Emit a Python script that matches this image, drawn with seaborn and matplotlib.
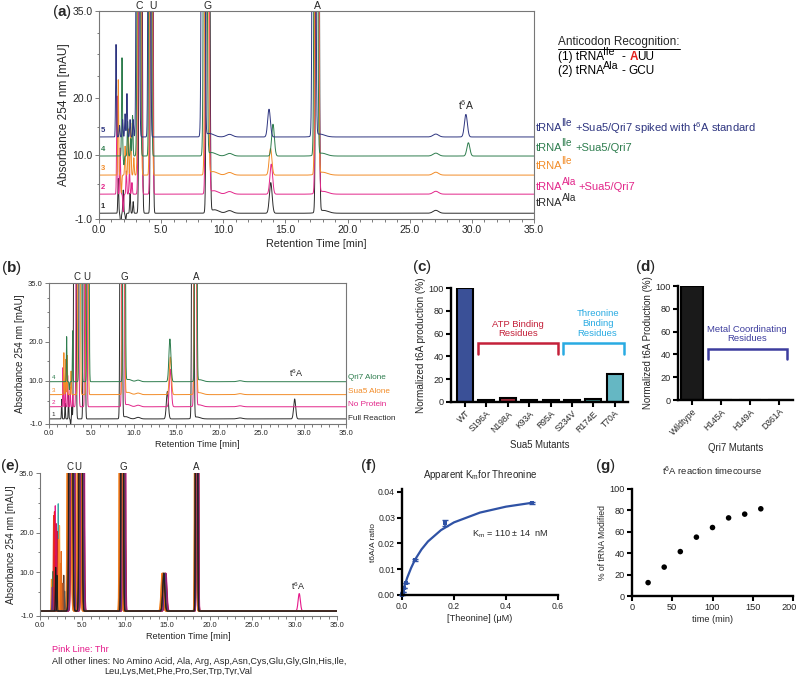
import numpy as np
import pandas as pd
import matplotlib
matplotlib.use("Agg")
import matplotlib.pyplot as plt
import matplotlib.transforms as mtrans
from matplotlib.ticker import MultipleLocator, FixedLocator
import seaborn as sns

sns.set_theme(style="ticks")
plt.rcParams["font.family"] = ["Liberation Sans", "DejaVu Sans"]
plt.rcParams["mathtext.fontset"] = "custom"
plt.rcParams["mathtext.rm"] = "Liberation Sans"
plt.rcParams["mathtext.it"] = "Liberation Sans:italic"
plt.rcParams["mathtext.bf"] = "Liberation Sans:bold"

# ---------------- data ----------------
# (a) HPLC traces: tRNA-Ile / tRNA-Ala with Sua5/Qri7 (bottom -> top)
a_labels = ["tRNA-Ala", "tRNA-Ala +Sua5/Qri7", "tRNA-Ile", "tRNA-Ile +Sua5/Qri7",
            "tRNA-Ile +Sua5/Qri7 +t6A std"]
a_trna = ["Ala", "Ala", "Ile", "Ile", "Ile"]
a_extra = ["", "+Sua5/Qri7", "", "+Sua5/Qri7", r"+Sua5/Qri7 spiked with t$^{\mathrm{6}}$A standard"]
a_colors = ["#2b2b2b", "#e2268a", "#f28c28", "#2e7d4e", "#2e3580"]
a_base = [0.0, 3.3, 6.6, 9.9, 13.2]
a_C = [3.35, 3.30, 3.25, 3.20, 3.12]
a_U = [4.25, 4.22, 4.18, 4.12, 4.05]
a_G = [8.78, 8.72, 8.66, 8.55, 8.38]
a_A = [17.58, 17.55, 17.52, 17.45, 17.30]
a_m14 = [13.82, 13.86, 13.80, 14.00, 13.68]
a_m14_h = [5.3, 5.2, 4.6, 5.5, 4.8]
a_t6a = [29.6, 29.6, 29.6, 29.72, 29.52]
a_t6a_h = [0.0, 0.0, 0.0, 2.3, 3.9]
a_spike_t = [[1.55, 1.75, 1.95, 2.15, 2.5, 2.75],
             [1.45, 1.7, 1.95, 2.2, 2.45, 2.65],
             [1.55, 1.8, 2.1, 2.35, 2.55, 2.8],
             [1.85, 2.0, 2.3, 2.55, 2.7],
             [1.37, 1.65, 1.9, 2.1, 2.25, 2.5, 2.75]]
a_spike_h = [[6, -2.5, 4, -1.2, 3.5, 2],
             [17, 8, -3, 4, 4.5, 2],
             [16.5, -3, 5, 8, 9, 3],
             [17, -1.5, 6, 3, 7],
             [16, 2, 3, 4, 7.5, 3, 3]]

# (b) controls
b_labels = ["Full Reaction", "No Protein", "Sua5 Alone", "Qri7 Alone"]
b_colors = ["#2b2b2b", "#e2268a", "#f28c28", "#2e7d4e"]
b_base = [0.3, 3.4, 6.5, 9.8]
b_C = [3.05, 3.35, 3.55, 3.70]
b_U = [4.15, 4.35, 4.50, 4.60]
b_G = [8.50, 8.72, 8.78, 8.85]
b_A = [16.95, 17.22, 17.26, 17.30]
b_m14 = [13.95, 14.30, 14.30, 14.25]
b_m14_h = [7.0, 9.6, 9.6, 10.9]
b_t6a_h = [5.1, 0.0, 0.0, 0.0]
b_spike_t = [[1.5, 1.9, 2.3, 2.55, 2.7],
             [1.65, 1.9, 2.2, 2.5, 2.8],
             [1.75, 1.97, 2.15, 2.6],
             [2.08, 2.4, 2.79]]
b_spike_h = [[5, 4, 6, -1.5, 3],
             [10, 6, 8, 5, 3],
             [10.7, 9, 10, 6],
             [11.5, -2, 13]]

# (e) amino acid screen
e_names = ["Thr", "Ala", "Arg", "Asp", "Asn", "Cys", "Glu", "Gly", "Gln", "His", "Ile",
           "Leu", "Lys", "Met", "Phe", "Pro", "Ser", "Trp", "Tyr", "No Amino Acid", "Val"]
e_colors = ["#e5198a", "#f7941d", "#e03a1e", "#8c2d19", "#f26522", "#3aa6a6", "#c1272d",
            "#5b3a29", "#f9a541", "#7a1f5c", "#2e6b3a", "#ed1c24", "#f58220", "#555555",
            "#d4145a", "#a0522d", "#ff7f27", "#6d2e8c", "#e86a1a", "#1a1a1a", "#222222"]
e_shift = [0.25, -0.2, 0.1, -0.05, 0.2, 0.0, 0.15, -0.15, 0.05, 0.22, -0.1,
           0.12, -0.22, 0.08, 0.18, -0.08, 0.02, 0.16, -0.12, -0.02, 0.0]
e_spike_t = [1.8, 1.35, 1.6, 2.6, 1.95, 2.15, 2.05, 2.8, 2.3, 1.75, 1.55,
             1.7, 2.4, 2.9, 1.9, 2.7, 2.2, 1.45, 2.5, 1.85, 2.0]
e_spike_h = [26.5, 8, 24, 6, 21, 27, 20, 9, 21.5, 14, 10,
             25, 12, 5, 22, 7, 18, 6, 15, 11, 9]
e_t6a_h = [4.4] + [0.0] * 20

# (c) Sua5 mutants
c_mutants = ["WT", "S196A", "N198A", "K93A", "R95A", "S234V", "R174E", "T70A"]
c_values = [100, 1.5, 3.5, 2.0, 2.0, 2.0, 3.0, 24.5]
c_colors = ["#2b48a6", "#222222", "#b3162c", "#222222", "#222222", "#222222", "#2f8f8c", "#55c3d3"]

# (d) Qri7 mutants
d_mutants = ["Wildtype", "H145A", "H149A", "D361A"]
d_values = [100, 0, 0, 0]

# (f) Km for threonine
f_conc = [0.0, 0.003, 0.008, 0.015, 0.05, 0.165, 0.5]
f_ratio = [0.0, 0.0012, 0.0028, 0.0048, 0.0135, 0.0281, 0.0358]
f_err = [0.0, 0.0, 0.0, 0.0, 0.0003, 0.0012, 0.0003]
f_fit_x = [0, 0.005, 0.01, 0.02, 0.035, 0.05, 0.075, 0.1, 0.15, 0.2, 0.3, 0.4, 0.5]
f_fit_y = [0, 0.0019, 0.0036, 0.0067, 0.0105, 0.0137, 0.0177, 0.0208, 0.0252, 0.0282,
           0.0320, 0.0343, 0.0358]

# (g) time course
g_time = [20, 40, 60, 80, 100, 120, 140, 160]
g_pct = [12.5, 27, 41.5, 55, 64, 73, 76.5, 81.5]

# ---------------- helpers ----------------
W, H = 799, 675
fig = plt.figure(figsize=(W / 100, H / 100), dpi=100)
t = np.linspace(0, 35, 3501)


def px_axes(left, top, right, bottom):
    return fig.add_axes([left / W, 1 - bottom / H, (right - left) / W, (bottom - top) / H])


def rich_text(x, y, parts, fs, kern=1.0):
    # x, y in picture pixels (from top-left); parts = (text, kind, colour)
    r = fig.canvas.get_renderer()
    cx = x
    px = fs * 100 / 72
    for s, kind, col in parts:
        if kind == "gap":
            cx += s
            continue
        size = fs * 0.9 if kind == "sup" else fs
        dy = 0.45 * px if kind == "sup" else 0
        tx = fig.text(cx, H - y + dy, s, transform=mtrans.IdentityTransform(), fontsize=size,
                      color=col, va="center", fontweight="bold" if kind == "bold" else "normal")
        cx = tx.get_window_extent(r).x1 - kern
    return cx


def trace(base, peaks):
    y = np.full_like(t, base)
    for c, h, w in peaks:
        y = y + h * np.exp(-0.5 * ((t - c) / w) ** 2)
    return y


def chrom_plot(ax, names, colors, curves, lw=0.7):
    df = pd.DataFrame({"time": np.tile(t, len(names)),
                       "abs": np.concatenate(curves),
                       "sample": np.repeat(names, len(t))})
    sns.lineplot(data=df, x="time", y="abs", hue="sample", hue_order=names,
                 palette=colors, estimator=None, sort=False, legend=False, lw=lw, ax=ax)


def style_chrom(ax, fs, box=True):
    ax.set_xlim(0, 35)
    ax.set_ylim(-1, 35)
    ax.set_xticks(np.arange(0, 36, 5))
    ax.set_xticklabels([f"{v:.1f}" for v in np.arange(0, 36, 5)])
    ax.xaxis.set_minor_locator(MultipleLocator(1))
    ax.set_yticks([-1, 10, 20, 35])
    ax.set_yticklabels(["-1.0", "10.0", "20.0", "35.0"])
    ax.yaxis.set_minor_locator(FixedLocator([5, 15, 23.75, 27.5, 31.25]))
    ax.tick_params(which="both", direction="out", color="#666666", width=0.6,
                   labelsize=fs, pad=1.5)
    ax.tick_params(which="major", length=3)
    ax.tick_params(which="minor", length=1.8)
    for s in ax.spines.values():
        s.set_color("#777777")
        s.set_linewidth(0.8)
    if not box:
        ax.spines["top"].set_visible(False)
        ax.spines["right"].set_visible(False)


def nuc_letters(ax, pos, fs, dy):
    tr = mtrans.blended_transform_factory(ax.transData, ax.transAxes)
    for letter, x in zip("CUGA", pos):
        ax.text(x, 1 + dy, letter, transform=tr, ha="center", va="bottom", fontsize=fs)


def style_prism(ax, fs):
    sns.despine(ax=ax)
    for s in ["left", "bottom"]:
        ax.spines[s].set_linewidth(1.7)
        ax.spines[s].set_color("black")
    ax.tick_params(width=1.5, length=3.5, labelsize=fs, pad=1.5, color="black")


def bracket(ax, x0, x1, y0, y1, color):
    ax.plot([x0, x0, x1, x1], [y0, y1, y1, y0], color=color, lw=1.8, clip_on=False,
            solid_joinstyle="miter")


# ---------------- (a) ----------------
ax = px_axes(99, 11, 534, 219)
curves = []
for i in range(5):
    pk = [(a_C[i], 300, 0.07), (a_U[i], 300, 0.06), (a_G[i], 300, 0.08), (a_G[i] + 0.5, 0.6, 0.35),
          (a_A[i], 300, 0.08), (a_A[i] + 0.45, 0.5, 0.4), (10.5, 0.45, 0.25),
          (a_m14[i], a_m14_h[i], 0.11), (27.1, 0.5, 0.22), (a_t6a[i], a_t6a_h[i], 0.12)]
    pk += [(st, sh, 0.035) for st, sh in zip(a_spike_t[i], a_spike_h[i])]
    curves.append(trace(a_base[i], pk))
chrom_plot(ax, a_labels, a_colors, curves)
style_chrom(ax, 7.5)
ax.set_xlabel("Retention Time [min]", fontsize=7.8, labelpad=3)
ax.set_ylabel("Absorbance 254 nm [mAU]", fontsize=8.6, labelpad=2)
nuc_letters(ax, [3.2, 4.3, 8.7, 17.6], 7.5, 0.0)
ax.text(29.5, 18.7, r"t$^{\mathrm{6}}$A", fontsize=7.5, ha="center", va="center")
for i, col in enumerate(a_colors):
    ax.text(0.15, a_base[i] + 0.5, str(i + 1), color=col, fontsize=5.5, fontweight="bold",
            va="bottom")
for trna, extra, col, ypx in zip(a_trna, a_extra, a_colors, [203, 187, 166, 148, 128]):
    parts = [("tRNA", "n", col), (trna, "sup", col)]
    if extra:
        parts += [(4, "gap", col), (extra, "n", col)]
    rich_text(536, ypx, parts, 8)

# anticodon box
r = fig.canvas.get_renderer()
t1 = fig.text(558 / W, 1 - 42 / H, "Anticodon Recognition:", fontsize=8.5, va="center")
bb = t1.get_window_extent(r)
fig.add_artist(plt.Line2D([558 / W, bb.x1 / W], [1 - 49 / H, 1 - 49 / H], color="black", lw=0.7))
rich_text(558, 57, [("(1) tRNA", "n", "black"), ("Ile", "sup", "black"), (8, "gap", "k"),
                    ("-", "n", "black"), (5, "gap", "k"), ("A", "bold", "#e3201b"),
                    ("UU", "n", "black")], 8.5)
rich_text(558, 71, [("(2) tRNA", "n", "black"), ("Ala", "sup", "black"), (4, "gap", "k"),
                    ("-", "n", "black"), (4, "gap", "k"), ("GCU", "n", "black")], 8.5)

# ---------------- (b) ----------------
ax = px_axes(49, 283, 346, 424)
curves = []
for i in range(4):
    pk = [(b_C[i], 300, 0.08), (b_U[i], 300, 0.07), (b_G[i], 300, 0.08), (b_G[i] + 0.5, 0.6, 0.35),
          (b_A[i], 300, 0.08), (b_A[i] + 0.45, 0.5, 0.4), (10.5, 0.4, 0.25),
          (b_m14[i], b_m14_h[i], 0.12), (22.5, 0.25, 0.3), (28.95, b_t6a_h[i], 0.12)]
    pk += [(st, sh, 0.035) for st, sh in zip(b_spike_t[i], b_spike_h[i])]
    curves.append(trace(b_base[i], pk))
chrom_plot(ax, b_labels, b_colors, curves)
style_chrom(ax, 5.5)
ax.set_xlabel("Retention Time [min]", fontsize=6.6, labelpad=2)
ax.set_ylabel("Absorbance 254 nm [mAU]", fontsize=7.1, labelpad=2)
nuc_letters(ax, [3.3, 4.5, 8.9, 17.3], 7, 0.01)
ax.text(29.1, 10.5, r"t$^{\mathrm{6}}$A", fontsize=6.5, ha="center", va="bottom")
for i, col in enumerate(b_colors):
    ax.text(0.3, b_base[i] + 0.4, str(i + 1), color=col, fontsize=4.5, va="bottom")
tr = mtrans.blended_transform_factory(ax.transAxes, ax.transData)
for lab, col, yv in zip(b_labels, b_colors, [0.5, 3.9, 7.2, 10.8]):
    ax.text(1.006, yv, lab, transform=tr, color=col, fontsize=5.9, va="center", clip_on=False)

# ---------------- (e) ----------------
ax = px_axes(40, 473, 337, 616)
curves = []
for i in range(len(e_names)):
    s = e_shift[i]
    pk = [(3.65 + s, 300, 0.12), (4.8 + s, 300, 0.10), (9.7 + s, 300, 0.08),
          (18.45 + 0.5 * s, 300, 0.07), (14.6 + s, 9.5, 0.12),
          (30.55, e_t6a_h[i], 0.13), (e_spike_t[i], e_spike_h[i], 0.04)]
    curves.append(trace(0.25, pk))
chrom_plot(ax, e_names, e_colors, curves, lw=0.8)
style_chrom(ax, 5.5, box=False)
ax.set_xlabel("Retention Time [min]", fontsize=6.6, labelpad=2)
ax.set_ylabel("Absorbance 254 nm [mAU]", fontsize=7.1, labelpad=2)
nuc_letters(ax, [3.5, 4.5, 9.8, 18.4], 7, 0.01)
ax.text(30.4, 5.0, r"t$^{\mathrm{6}}$A", fontsize=6.5, ha="center", va="bottom")
fig.text(52 / W, 1 - 650 / H, "Pink Line: Thr", color="#e5198a", fontsize=6.6, va="center")
fig.text(52 / W, 1 - 661 / H,
         "All other lines: No Amino Acid, Ala, Arg, Asp,Asn,Cys,Glu,Gly,Gln,His,Ile,",
         fontsize=6.6, va="center")
fig.text(104 / W, 1 - 671 / H, "Leu,Lys,Met,Phe,Pro,Ser,Trp,Tyr,Val", fontsize=6.6, va="center")

# ---------------- (c) ----------------
ax = px_axes(451, 288, 628, 402)
sns.barplot(x=c_mutants, y=c_values, hue=c_mutants, palette=c_colors, legend=False,
            width=0.75, edgecolor="black", linewidth=1.5, ax=ax)
ax.set_xlim(-0.654, 7.62)
ax.set_ylim(0, 100)
ax.set_yticks(range(0, 101, 20))
style_prism(ax, 6.6)
plt.setp(ax.get_xticklabels(), rotation=45, ha="right", rotation_mode="anchor", fontsize=6.2)
ax.set_ylabel("Normalized t6A production (%)", fontsize=7.2, labelpad=2)
ax.set_xlabel("Sua5 Mutants", fontsize=6.9, labelpad=4)
bracket(ax, 0.62, 4.35, 42, 52, "#c4213a")
bracket(ax, 4.58, 7.43, 42, 52, "#29abe2")
ax.text(2.48, 64, "ATP Binding\nResidues", color="#c4213a", fontsize=6.8, ha="center",
        va="center", linespacing=1.1)
ax.text(6.2, 69, "Threonine\nBinding\nResidues", color="#29abe2", fontsize=6.8, ha="center",
        va="center", linespacing=1.1)

# ---------------- (d) ----------------
ax = px_axes(678, 286, 793, 400)
sns.barplot(x=d_mutants, y=d_values, color="#1a1a1a", width=0.76, edgecolor="black",
            linewidth=1.5, ax=ax)
ax.set_xlim(-0.483, 3.48)
ax.set_ylim(0, 100)
ax.set_yticks(range(0, 101, 20))
style_prism(ax, 6.6)
plt.setp(ax.get_xticklabels(), rotation=45, ha="right", rotation_mode="anchor", fontsize=6.2)
ax.set_ylabel("Normalized t6A Production (%)", fontsize=7.0, labelpad=2)
ax.set_xlabel("Qri7 Mutants", fontsize=6.9, labelpad=4)
bracket(ax, 0.55, 3.28, 36, 45, "#3d3d9e")
ax.text(1.9, 58, "Metal Coordinating\nResidues", color="#3d3d9e", fontsize=6.8, ha="center",
        va="center", linespacing=1.1)

# ---------------- (f) ----------------
ax = px_axes(402, 489.4, 558, 595)
sns.lineplot(x=f_fit_x, y=f_fit_y, color="#2f52a5", lw=1.6, ax=ax)
ax.errorbar(f_conc, f_ratio, yerr=f_err, fmt="none", ecolor="#2f52a5", elinewidth=1.2,
            capsize=2, clip_on=False)
sns.scatterplot(x=f_conc, y=f_ratio, color="#2f52a5", s=8, marker="s", edgecolor="none",
                ax=ax, clip_on=False)
ax.set_xlim(0, 0.6)
ax.set_ylim(0, 0.041)
ax.set_xticks([0, 0.2, 0.4, 0.6])
ax.set_xticklabels(["0.0", "0.2", "0.4", "0.6"])
ax.set_yticks([0, 0.01, 0.02, 0.03, 0.04])
ax.set_yticklabels(["0.00", "0.01", "0.02", "0.03", "0.04"])
style_prism(ax, 6.2)
ax.set_title(r"Apparent K$_{\mathrm{m}}$for Threonine", fontsize=7.0, pad=8)
ax.set_xlabel("[Theonine] (\u03bcM)", fontsize=6.6, labelpad=2)
ax.set_ylabel("t6A/A ratio", fontsize=6.0, labelpad=1)
ax.text(0.27, 0.0235, r"K$_{\mathrm{m}}$ = 110 $\pm$ 14  nM", fontsize=6.6, va="center")

# ---------------- (g) ----------------
ax = px_axes(632, 489, 793, 596)
sns.scatterplot(x=g_time, y=g_pct, color="black", s=16, edgecolor="none", ax=ax)
ax.set_xlim(0, 200)
ax.set_ylim(0, 100)
ax.set_xticks(range(0, 201, 50))
ax.set_yticks(range(0, 101, 20))
style_prism(ax, 6.6)
last = ax.get_xticklabels()[-1]
last.set_transform(last.get_transform() + mtrans.ScaledTranslation(-3 / 72, 0, fig.dpi_scale_trans))
ax.set_title(r"t$^{\mathrm{6}}$A reaction timecourse", fontsize=6.8, pad=10)
ax.set_xlabel("time (min)", fontsize=6.6, labelpad=2)
ax.set_ylabel("% of tRNA Modified", fontsize=6.2, labelpad=2)

# ---------------- panel letters ----------------
for lab, x, y in [("a", 52, 12), ("b", 1, 268), ("c", 412, 267), ("d", 635, 267),
                  ("e", 0, 466), ("f", 360, 466), ("g", 595, 466)]:
    fig.text(x / W, 1 - y / H, "(" + r"$\mathbf{" + lab + "}$" + ")", fontsize=11, va="center")

fig.savefig("out.png", dpi=100)
